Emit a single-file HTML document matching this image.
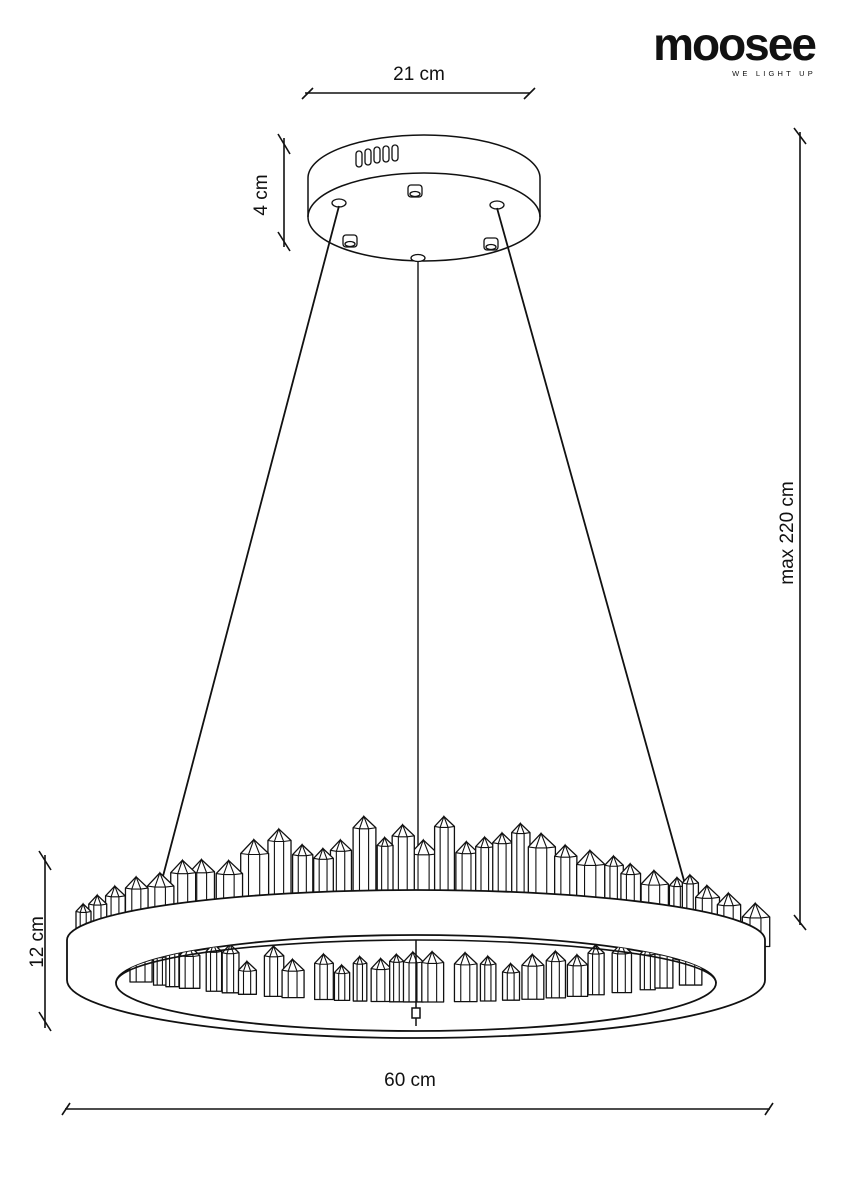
<!DOCTYPE html>
<html><head><meta charset="utf-8"><style>
html,body{margin:0;padding:0;background:#fff;}
svg{display:block;}
text{font-family:"Liberation Sans",sans-serif;fill:#111;}
</style></head><body>
<svg id="s" width="848" height="1200" viewBox="0 0 848 1200" xmlns="http://www.w3.org/2000/svg">
<rect width="848" height="1200" fill="#fff"/>
<text x="734" y="60" font-size="46" font-weight="bold" text-anchor="middle" letter-spacing="-2">moosee</text>
<text x="774" y="76" font-size="7.5" text-anchor="middle" letter-spacing="3.2">WE LIGHT UP</text>
<g stroke="#111" stroke-width="1.6" fill="none">
<line x1="305" y1="93" x2="530" y2="93"/>
<line x1="302" y1="99" x2="313" y2="88"/><line x1="524" y1="99" x2="535" y2="88"/>
<line x1="284" y1="138" x2="284" y2="247"/>
<line x1="278" y1="134" x2="290" y2="154"/><line x1="278" y1="232" x2="290" y2="251"/>
<line x1="800" y1="132" x2="800" y2="925"/>
<line x1="794" y1="128" x2="806" y2="144"/><line x1="794" y1="915" x2="806" y2="930"/>
<line x1="45" y1="855" x2="45" y2="1028"/>
<line x1="39" y1="851" x2="51" y2="870"/><line x1="39" y1="1012" x2="51" y2="1031"/>
<line x1="65" y1="1109" x2="770" y2="1109"/>
<line x1="62" y1="1115" x2="70" y2="1103"/><line x1="765" y1="1115" x2="773" y2="1103"/>
</g>
<text x="419" y="80" font-size="19" text-anchor="middle">21 cm</text>
<text transform="translate(267,195) rotate(-90)" font-size="19" text-anchor="middle">4 cm</text>
<text transform="translate(793,533) rotate(-90)" font-size="19" text-anchor="middle">max 220 cm</text>
<text transform="translate(43,942) rotate(-90)" font-size="19" text-anchor="middle">12 cm</text>
<text x="410" y="1086" font-size="19" text-anchor="middle">60 cm</text>

<g stroke="#111" stroke-width="1.5" fill="#fff">
<path d="M308,178 A116,43 0 0 1 540,178 L540,217 A116,44 0 0 1 308,217 Z"/>
<path d="M308,217 A116,44 0 0 1 540,217" fill="none"/>
<g stroke-width="1.3">
<rect x="356" y="151" width="6" height="16" rx="3"/><rect x="365" y="149" width="6" height="16" rx="3"/><rect x="374" y="147" width="6" height="16" rx="3"/><rect x="383" y="146" width="6" height="16" rx="3"/><rect x="392" y="145" width="6" height="16" rx="3"/>
<rect x="408" y="185" width="14" height="12" rx="3"/><ellipse cx="415" cy="194" rx="5" ry="2.5"/>
<rect x="343" y="235" width="14" height="12" rx="3"/><ellipse cx="350" cy="244" rx="5" ry="2.5"/>
<rect x="484" y="238" width="14" height="12" rx="3"/><ellipse cx="491" cy="247" rx="5" ry="2.5"/>
<ellipse cx="339" cy="203" rx="7" ry="4"/><ellipse cx="497" cy="205" rx="7" ry="4"/><ellipse cx="418" cy="258" rx="7" ry="3.5"/>
</g>
</g>
<g stroke="#111" stroke-width="1.8">
<line x1="339" y1="206" x2="162" y2="880"/>
<line x1="497" y1="208" x2="688" y2="895"/>
<line x1="418" y1="261" x2="418" y2="850" stroke-width="1.4"/>
</g>
<g id="top"></g>
<path d="M67,940 A349,50 0 0 1 765,940 L765,980 A349,58 0 0 1 67,980 Z" fill="#fff" stroke="#111" stroke-width="1.8"/>
<defs><clipPath id="hole"><ellipse cx="416" cy="983" rx="300" ry="48"/></clipPath></defs>
<ellipse cx="416" cy="983" rx="300" ry="48" fill="#fff" stroke="#111" stroke-width="1.8"/>
<g id="inner" clip-path="url(#hole)"></g>
<path d="M116,983 A300,43 0 0 1 716,983" fill="none" stroke="#111" stroke-width="1.6"/>
<g stroke="#111" stroke-width="1.5" fill="#fff">
<line x1="416" y1="940" x2="416" y2="1008"/>
<rect x="412" y="1008" width="8" height="10"/>
<path d="M416,1018 v8" fill="none"/>
</g>
</svg>
<script>
(function(){
var NS="http://www.w3.org/2000/svg";
var seed=7;function r(){seed=(seed*16807)%2147483647;return (seed-1)/2147483646;}
function crystal(g,x,b,w,h){
 var t=b-h,ph=w*0.5,ax=x+w*0.47;
 var d="M"+x+","+b+" L"+x+","+t+" L"+ax+","+(t-ph)+" L"+(x+w)+","+t+" L"+(x+w)+","+b+" Z";
 var p=document.createElementNS(NS,"path");p.setAttribute("d",d);p.setAttribute("fill","#fff");p.setAttribute("stroke","#111");p.setAttribute("stroke-width","1.3");p.setAttribute("stroke-linejoin","round");g.appendChild(p);
 var x1=x+w*0.28,x2=x+w*0.68;
 var l=document.createElementNS(NS,"path");
 l.setAttribute("d","M"+x1+","+b+" L"+x1+","+(t+1)+" L"+ax+","+(t-ph)+" L"+x2+","+(t+1)+" L"+x2+","+b+" M"+x+","+t+" L"+x1+","+(t+1)+" L"+x2+","+(t+1)+" L"+(x+w)+","+t);
 l.setAttribute("fill","none");l.setAttribute("stroke","#111");l.setAttribute("stroke-width","1.1");g.appendChild(l);
}
var top=document.getElementById("top"),list=[];
var x=76;
while(x<752){
 var w=15+r()*14;
 var dx=(x+w/2-416)/349;
 var ay=940-50*Math.sqrt(Math.max(0,1-dx*dx));
 var h=28+(1-Math.abs(dx))*(14+r()*52);
 list.push([x,ay+8+Math.abs(dx)*10,w,h]);
 x+=w*(0.75+r()*0.35);
}
list.sort(function(a,b){return a[1]-b[1];});
list.forEach(function(c){crystal(top,c[0],c[1],c[2],c[3]);});
var inn=document.getElementById("inner");x=130;
while(x<700){
 var w2=13+r()*10,dx2=(x-416)/300;
 var b=1002-22*dx2*dx2;
 crystal(inn,x,b,w2,24+r()*18);
 x+=w2*(0.9+r()*0.6);
}
})();
</script>
</body></html>
